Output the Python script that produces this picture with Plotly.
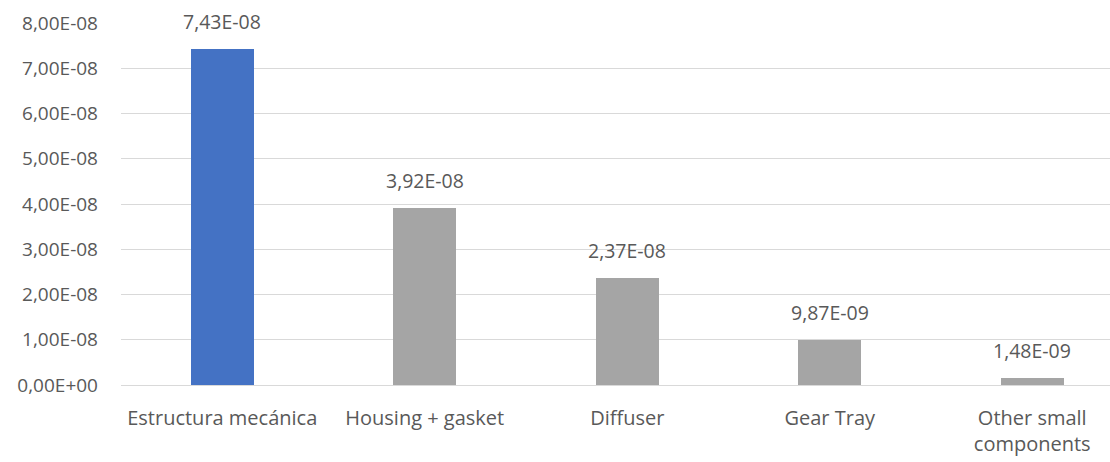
import plotly.graph_objects as go

categories = ["Estructura mecánica", "Housing + gasket", "Diffuser", "Gear Tray", "Other small components"]
tick_labels = ["Estructura mecánica", "Housing + gasket", "Diffuser", "Gear Tray", "Other small<br>components"]
values = [7.43e-08, 3.92e-08, 2.37e-08, 9.87e-09, 1.48e-09]
bar_colors = ["#4472C4", "#A5A5A5", "#A5A5A5", "#A5A5A5", "#A5A5A5"]
y_ticks = [0, 1e-08, 2e-08, 3e-08, 4e-08, 5e-08, 6e-08, 7e-08, 8e-08]


def fmt(v):
    return f"{v:.2E}".replace(".", ",")


FONT = "Open Sans"
TXT = "#595959"

fig = go.Figure()
fig.add_trace(go.Bar(
    x=list(range(len(categories))), y=values,
    marker=dict(color=bar_colors, line=dict(width=0)),
    width=0.31, hoverinfo="skip",
))

for i, v in enumerate(values):
    fig.add_annotation(x=i, y=v, text=fmt(v), showarrow=False,
                       yanchor="bottom", yshift=12,
                       font=dict(family=FONT, size=19.5, color=TXT))

fig.update_layout(
    width=1110, height=462,
    margin=dict(l=121, r=0, t=23, b=77),
    plot_bgcolor="white", paper_bgcolor="white",
    showlegend=False, bargap=0,
    font=dict(family=FONT, size=19, color=TXT),
)
fig.update_xaxes(
    tickvals=list(range(len(categories))), ticktext=tick_labels,
    range=[-0.5, 4.384], showgrid=False, showline=False, zeroline=False,
    ticks="", ticklabelstandoff=19,
    tickfont=dict(family=FONT, size=20, color=TXT),
)
fig.update_yaxes(
    range=[0, 8e-08], tickvals=y_ticks, ticktext=[fmt(v) for v in y_ticks],
    showgrid=True, gridcolor="#D9D9D9", gridwidth=1,
    zeroline=True, zerolinecolor="#D9D9D9", zerolinewidth=1,
    showline=False, ticks="", ticklabelstandoff=22,
    tickfont=dict(family=FONT, size=19, color=TXT),
)

fig.write_html("out.html")
